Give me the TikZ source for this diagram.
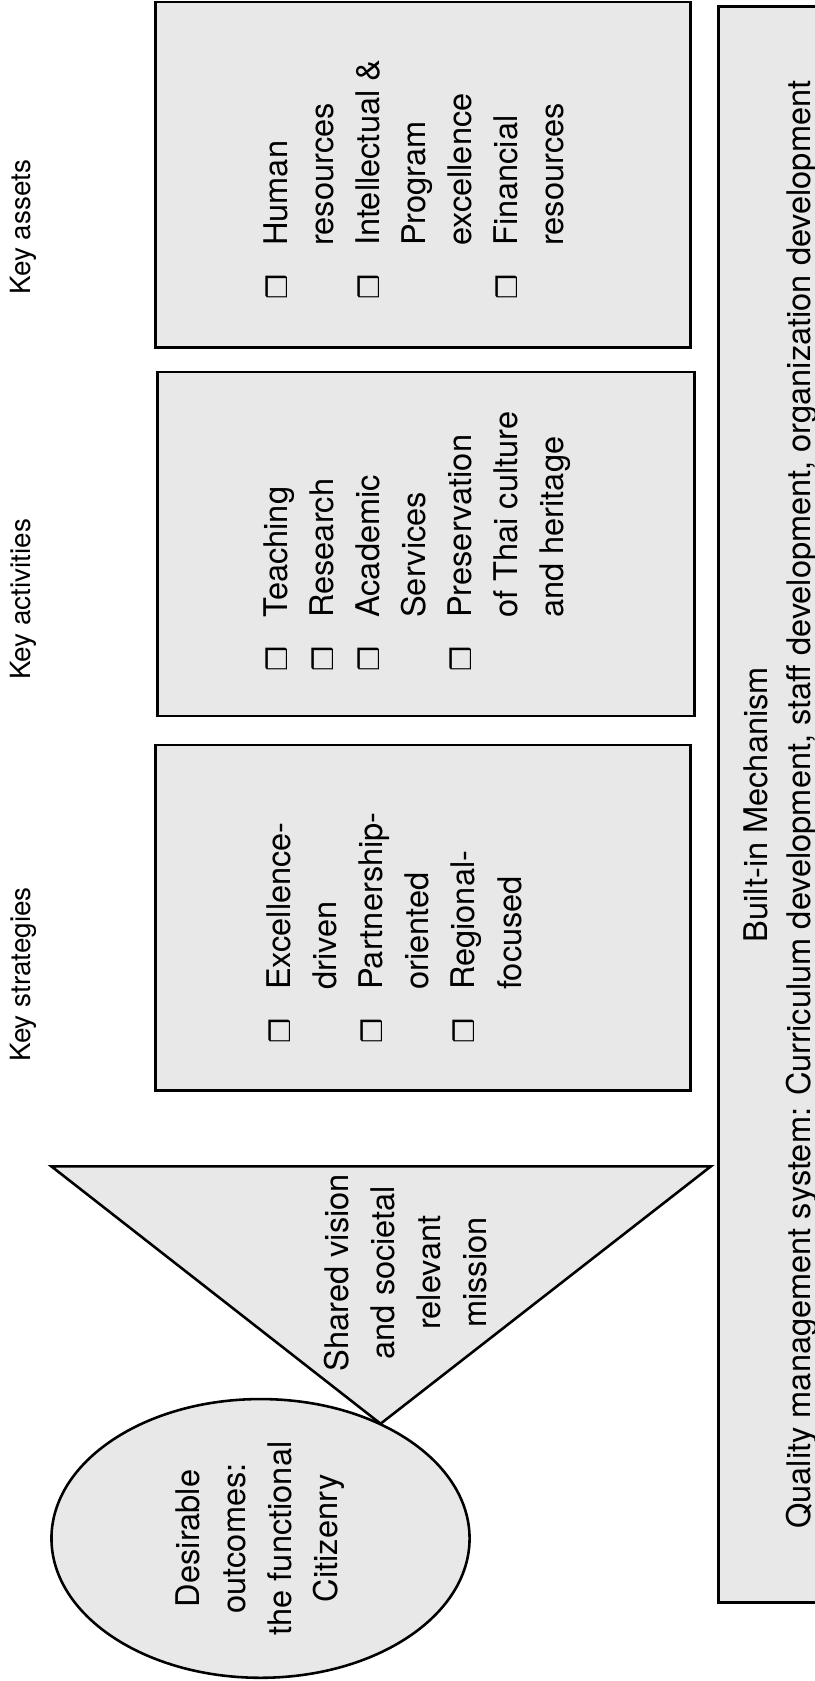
\documentclass[tikz,border=0pt]{standalone}
\usepackage{fontspec}
\setmainfont{TeX Gyre Heros}
\newfontfamily\symfont{DejaVu Sans}
\usetikzlibrary{shapes.geometric}
\definecolor{panelgray}{RGB}{232,232,232}
\newcommand{\itembox}{{\symfont\fontsize{13}{13}\selectfont ❒}}

\begin{document}
\begin{tikzpicture}[
  x=0.5pt, y=-0.5pt,
  panel/.style={draw,line width=1.2pt,fill=panelgray},
  frame/.style={panel,rotate=90,inner sep=0pt},
  head/.style={rotate=90,inner sep=0pt,font=\fontsize{13}{20}\selectfont},
  txt/.style={rotate=90,inner sep=0pt,align=center,font=\fontsize{15.2}{21.5}\selectfont},
  list/.style={rotate=90,inner sep=0pt,anchor=base west,font=\fontsize{15.2}{21.5}\selectfont}
]
  \clip (0,0) rectangle (760,1568);

  % column headings
  \node[head] (hassets) at (22,212) {Key assets};
  \node[head] (hactivities) at (22,559) {Key activities};
  \node[head] (hstrategies) at (22,909) {Key strategies};

  % boxes
  \node[frame,minimum width=161pt,minimum height=249.5pt] (assets) at (394.5,163) {};
  \node[frame,minimum width=160.5pt,minimum height=250.5pt] (activities) at (397.5,507.5) {};
  \node[frame,minimum width=161pt,minimum height=249.5pt] (strategies) at (394.5,856) {};

  \node[list] (assetlist) at (268,280) {\begin{tabular}[t]{@{}l@{\hspace{13.5pt}}l@{}}
    \itembox & Human\\ & resources\\
    \itembox & Intellectual \&\\ & Program\\ & excellence\\
    \itembox & Financial\\ & resources
  \end{tabular}};
  \node[list] (activitylist) at (268,627) {\begin{tabular}[t]{@{}l@{\hspace{13.5pt}}l@{}}
    \itembox & Teaching\\
    \itembox & Research\\
    \itembox & Academic\\ & Services\\
    \itembox & Preservation\\ & of Thai culture\\ & and heritage
  \end{tabular}};
  \node[list] (strategylist) at (271,974) {\begin{tabular}[t]{@{}l@{\hspace{13.5pt}}l@{}}
    \itembox & Excellence-\\ & driven\\
    \itembox & Partnership-\\ & oriented\\
    \itembox & Regional-\\ & focused
  \end{tabular}};

  % vision and outcome
  \draw[panel] (48,1088) coordinate (vleft) -- (663,1088) coordinate (vright)
    -- (355,1328) coordinate (vtip) -- cycle;
  \node[txt] (vision) at (378,1187) {Shared vision\\and societal\\relevant\\mission};
  \node[panel,ellipse,txt,minimum width=130pt,minimum height=195pt] (outcome) at (243,1435)
    {Desirable\\outcomes:\\the functional\\Citizenry};

  % mechanism
  \node[panel,txt,font=\fontsize{15.2}{20}\selectfont,minimum width=744.5pt,minimum height=58pt]
    (mechanism) at (728,750.5)
    {Built-in Mechanism\\Quality management system: Curriculum development, staff development, organization development};
\end{tikzpicture}
\end{document}
